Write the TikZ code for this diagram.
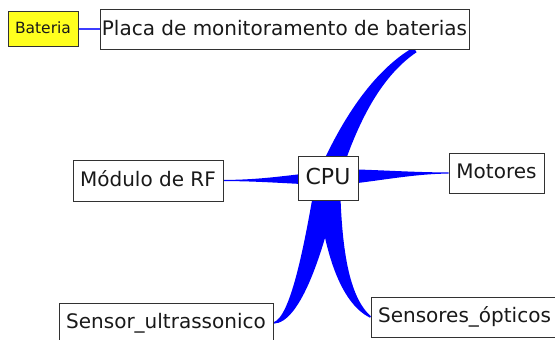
\documentclass[tikz,border=0pt]{standalone}
\usepackage{fontspec}
\setmainfont{DejaVu Sans}
\usetikzlibrary{calc,backgrounds}
\definecolor{edgeblue}{RGB}{0,0,255}
\definecolor{thinblue}{RGB}{60,60,255}
\definecolor{boxline}{RGB}{50,50,50}
\definecolor{txt}{RGB}{25,25,25}
\definecolor{batfill}{RGB}{255,255,30}
\newcommand\taper[8]{\fill[edgeblue] ($#1+#5$) .. controls ($#2+#6$) and ($#3+#7$) .. ($#4+#8$) -- ($#4-#8$) .. controls ($#3-#7$) and ($#2-#6$) .. ($#1-#5$) -- cycle;}
\tikzset{
  box/.style={draw=boxline, fill=white, text=txt, line width=1pt, inner sep=0pt,
    font=\fontsize{20}{24}\selectfont, text height=14.6pt, text depth=3pt, minimum height=40pt},
}
\begin{document}
\begin{tikzpicture}[x=1pt,y=-1pt]
\useasboundingbox (0,0) rectangle (555,340);
\node[box, minimum width=369pt] (plac) at (284.5,29.3) {Placa de monitoramento de baterias};
\node[box, fill=batfill, minimum width=70pt, minimum height=35pt, font=\fontsize{15.5}{18}\selectfont, text height=11.3pt, text depth=2.5pt] (bat) at (43,29.3) {Bateria};
\node[box, minimum width=150pt, minimum height=41pt] (mod) at (148,180.5) {Módulo de RF};
\node[box, minimum width=60pt, minimum height=44pt, font=\fontsize{22}{26}\selectfont, text height=16pt, text depth=3pt] (cpu) at (328,178) {CPU};
\node[box, minimum width=95pt] (mot) at (496.5,173) {Motores};
\node[box, minimum width=214pt] (sens) at (166,323) {Sensor\_ultrassonico};
\node[box, minimum width=187pt] (sopt) at (464.5,317) {Sensores\_ópticos};
\draw[thinblue, line width=1.8pt] (bat.east) -- (plac.west);
\begin{scope}[on background layer]
  \fill[white] (0,0) rectangle (555,340);
  % Placa
  \coordinate (pa1) at ($(cpu.center)+(20,-53)$);
  \coordinate (pa2) at ($(cpu.center)+(47,-103)$);
  \coordinate (pa3) at ($(plac.south)+(130.5,0)$);
  \taper{(cpu.center)}{(pa1)}{(pa2)}{(pa3)}{(10.4,3.9)}{(7.3,3.3)}{(3.4,3)}{(1.6,2.4)}
  % Sensor ultrassonico
  \coordinate (su1) at ($(cpu.center)+(-14,72)$);
  \coordinate (su2) at ($(sens.east)+(22,-3)$);
  \taper{(cpu.center)}{(su1)}{(su2)}{(sens.east)}{(11.8,2.3)}{(9.7,2.3)}{(5.2,2.9)}{(0,0.7)}
  % Sensores opticos
  \coordinate (so1) at ($(cpu.center)+(4,72)$);
  \coordinate (so2) at ($(sopt.west)+(-26,-17)$);
  \taper{(cpu.center)}{(so1)}{(so2)}{(sopt.west)}{(12,-0.7)}{(9,-1.3)}{(4.5,-2.7)}{(0.5,-0.7)}
  % Modulo de RF
  \fill[edgeblue] ($(cpu.center)+(0,-7)$) .. controls ($(cpu.center)+(-38,-3)$) and ($(mod.east)+(37,-0.5)$) .. ($(mod.east)+(0,-0.6)$)
    -- ($(mod.east)+(0,0.6)$) .. controls ($(mod.east)+(37,0.5)$) and ($(cpu.center)+(-38,6)$) .. ($(cpu.center)+(0,7)$) -- cycle;
  % Motores
  \fill[edgeblue] ($(cpu.center)+(0,-9)$) .. controls ($(cpu.center)+(42,-9)$) and ($(mot.west)+(-39,-0.5)$) .. ($(mot.west)+(0,-0.6)$)
    -- ($(mot.west)+(0,0.6)$) .. controls ($(mot.west)+(-39,0.8)$) and ($(cpu.center)+(42,5)$) .. ($(cpu.center)+(0,8)$) -- cycle;
\end{scope}
\end{tikzpicture}
\end{document}
